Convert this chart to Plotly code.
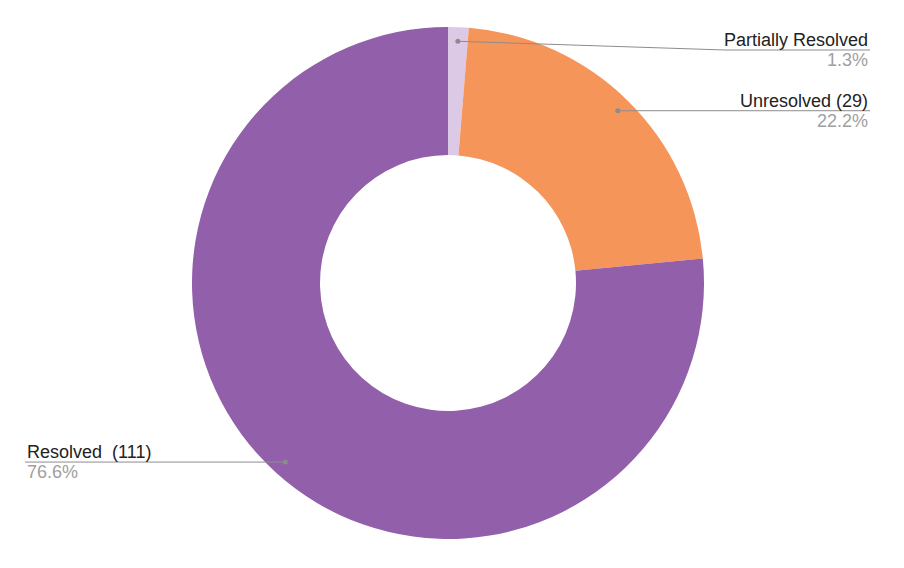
import numpy as np
import plotly.graph_objects as go

labels = ["Partially Resolved", "Unresolved", "Resolved"]
label_text = ["Partially Resolved", "Unresolved (29)", "Resolved  (111)"]
percents = [1.3, 22.2, 76.6]
colors = ["#DCC9E6", "#F5955A", "#925FAA"]

W, H = 904, 568
OFF = 8  # page body margin
CX, CY, R = 448 - OFF, 283 - OFF, 256

fig = go.Figure(go.Pie(
    labels=labels, values=percents, hole=0.5, sort=False, direction="clockwise",
    rotation=0, marker=dict(colors=colors, line=dict(width=0)),
    textinfo="none", hoverinfo="label+percent", showlegend=False,
    domain=dict(x=[(CX - R) / W, (CX + R) / W], y=[(H - CY - R) / H, (H - CY + R) / H]),
))

def px(x, y):
    return x / W, 1 - y / H

total = sum(percents)
cum = np.cumsum([0] + percents[:-1])
shapes, annotations = [], []
line_col = "#8c8c8c"
for i, (lt, p) in enumerate(zip(label_text, percents)):
    ang = np.deg2rad((cum[i] + p / 2) / total * 360)
    dx, dy = CX + 0.945 * R * np.sin(ang), CY - 0.945 * R * np.cos(ang)
    right = dx >= CX
    if i == 0:
        ly = 50 - OFF
        pts = [(dx, dy), (725 - OFF, ly), (870 - OFF, ly)]
    elif right:
        ly = dy
        pts = [(dx, dy), (870 - OFF, ly)]
    else:
        ly = dy
        pts = [(dx, dy), (25 - OFF, ly)]
    for a, b in zip(pts[:-1], pts[1:]):
        x0, y0 = px(*a); x1, y1 = px(*b)
        shapes.append(dict(type="line", xref="paper", yref="paper", x0=x0, y0=y0, x1=x1, y1=y1,
                           line=dict(color=line_col, width=1)))
    x0, y0 = px(dx, dy)
    shapes.append(dict(type="circle", xref="paper", yref="paper",
                       x0=x0 - 2.5 / W, x1=x0 + 2.5 / W, y0=y0 - 2.5 / H, y1=y0 + 2.5 / H,
                       fillcolor=line_col, line=dict(width=0)))
    tx = (870 if right else 25) - OFF
    anchor = "right" if right else "left"
    ax, ay = px(tx, ly)
    annotations.append(dict(x=ax, y=ay, xref="paper", yref="paper", text=lt, showarrow=False,
                            xanchor=anchor, yanchor="bottom", yshift=-2,
                            font=dict(size=18, color="#222222", family="Liberation Sans")))
    annotations.append(dict(x=ax, y=ay, xref="paper", yref="paper", text=f"{p}%", showarrow=False,
                            xanchor=anchor, yanchor="top", yshift=2,
                            font=dict(size=18, color="#a0a0a0", family="Liberation Sans")))

fig.update_layout(width=W, height=H, margin=dict(l=0, r=0, t=0, b=0),
                  paper_bgcolor="white", plot_bgcolor="white",
                  shapes=shapes, annotations=annotations,
                  font=dict(family="Liberation Sans"))
fig.write_html("out.html")
